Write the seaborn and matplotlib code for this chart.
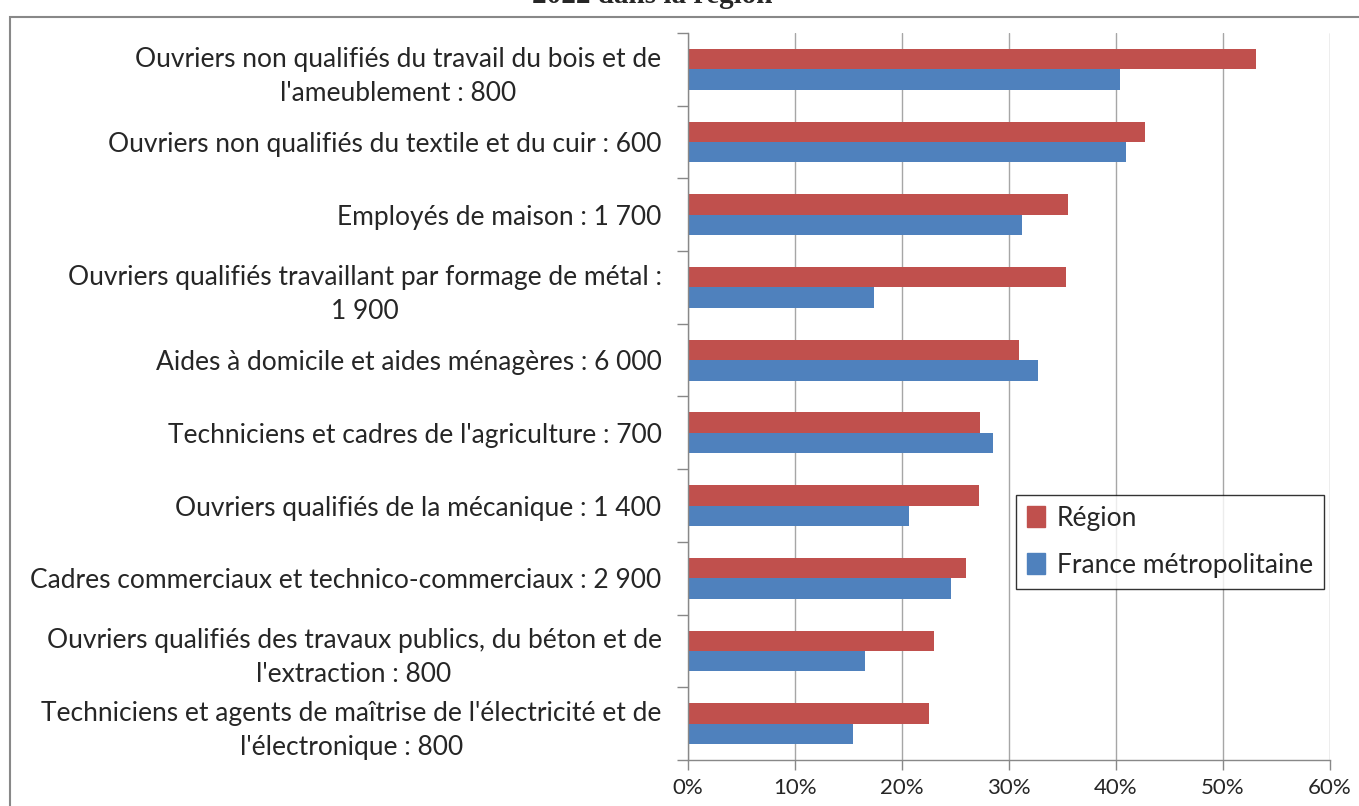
import numpy as np
import pandas as pd
import matplotlib.pyplot as plt
import matplotlib.patches as mpatches
from matplotlib.ticker import FuncFormatter, FixedLocator
import seaborn as sns

# data
categories = [
    "Ouvriers non qualifiés du travail du bois et de\nl'ameublement : 800",
    "Ouvriers non qualifiés du textile et du cuir : 600",
    "Employés de maison : 1 700",
    "Ouvriers qualifiés travaillant par formage de métal :\n1 900",
    "Aides à domicile et aides ménagères : 6 000",
    "Techniciens et cadres de l'agriculture : 700",
    "Ouvriers qualifiés de la mécanique : 1 400",
    "Cadres commerciaux et technico-commerciaux : 2 900",
    "Ouvriers qualifiés des travaux publics, du béton et de\nl'extraction : 800",
    "Techniciens et agents de maîtrise de l'électricité et de\nl'électronique : 800",
]
region = [53.1, 42.75, 35.5, 35.3, 30.9, 27.3, 27.2, 26.0, 23.0, 22.5]
france = [40.4, 40.9, 31.2, 17.4, 32.7, 28.5, 20.7, 24.6, 16.5, 15.4]
series = ["Région", "France métropolitaine"]
colors = ["#C0504D", "#4F81BD"]

df = pd.DataFrame({
    "cat": categories * 2,
    "val": region + france,
    "serie": [series[0]] * len(categories) + [series[1]] * len(categories),
})

sns.set_style("white")
plt.rcParams["font.family"] = ["Lato", "DejaVu Sans"]

fig = plt.figure(figsize=(13.59, 8.06), dpi=100)
ax = fig.add_axes([688 / 1359, 1 - 760 / 806, (1330 - 688) / 1359, (760 - 33) / 806])

sns.barplot(data=df, y="cat", x="val", hue="serie", hue_order=series,
            order=categories, palette=colors, orient="h", width=0.56,
            saturation=1, edgecolor="none", ax=ax)

ax.set_xlim(0, 60)
ax.set_ylim(len(categories) - 0.5, -0.5)
ax.set_xticks(np.arange(0, 61, 10))
ax.xaxis.set_major_formatter(FuncFormatter(lambda v, p: f"{int(v)}%"))
ax.grid(axis="x", color="#A6A6A6", linewidth=1)
ax.set_axisbelow(True)
ax.set_xlabel("")
ax.set_ylabel("")

# category separators as outside ticks
ax.yaxis.set_minor_locator(FixedLocator(np.arange(-0.5, len(categories), 1)))
ax.tick_params(axis="y", which="major", length=0, labelsize=19, pad=19)
ax.tick_params(axis="y", which="minor", length=8, width=1, color="#888888", left=True)
ax.tick_params(axis="x", which="major", length=7, width=1, color="#888888",
               bottom=True, labelsize=16, pad=6)
for lbl in ax.get_yticklabels():
    lbl.set_multialignment("center")
    lbl.set_linespacing(1.45)
for s in ["top", "right"]:
    ax.spines[s].set_visible(False)
for s in ["left", "bottom"]:
    ax.spines[s].set_color("#888888")
    ax.spines[s].set_linewidth(1)

handles = [mpatches.Patch(color=c) for c in colors]
leg = ax.legend(handles, series, loc="upper left",
                bbox_to_anchor=((1016 - 688) / 642, 1 - (495 - 33) / 727),
                fontsize=19, frameon=True, fancybox=False, edgecolor="black",
                handlelength=0.7, handleheight=0.85, handletextpad=0.45,
                labelspacing=0.85, borderpad=0.4, borderaxespad=0)
leg.get_frame().set_linewidth(1)

# outer chart frame
fig.add_artist(mpatches.Rectangle((10 / 1359, -0.01), 1.0, 1 - 17 / 806 + 0.01,
                                  transform=fig.transFigure, fill=False,
                                  edgecolor="#888888", linewidth=1.5))
# cut title
fig.text(0.48, 1.006, "2022 dans la région", ha="center", va="center",
         fontsize=21, fontweight="bold", family=["Liberation Serif", "DejaVu Serif"])

fig.savefig("out.png", dpi=100)
